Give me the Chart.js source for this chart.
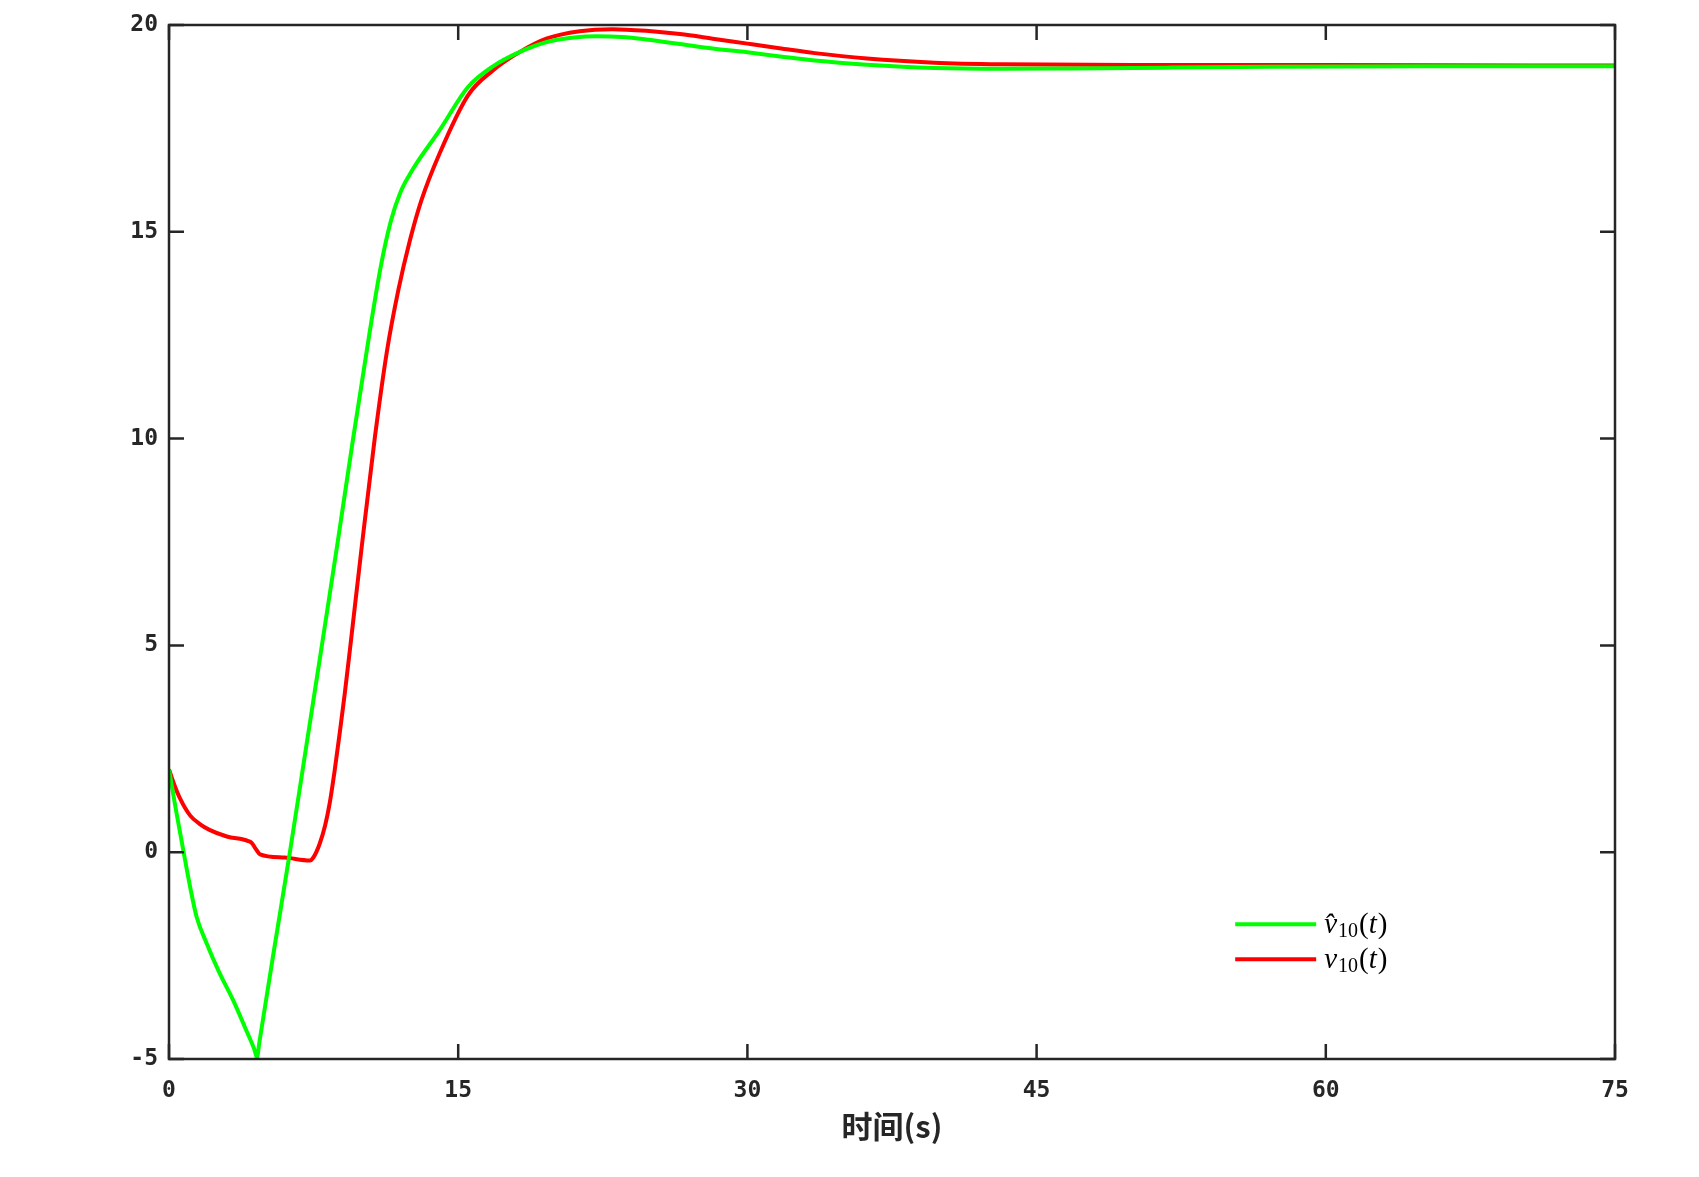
<!DOCTYPE html>
<html>
<head>
<meta charset="utf-8">
<script src="https://cdn.jsdelivr.net/npm/chart.js@4.4.1/dist/chart.umd.min.js"></script>
<style>
  html, body { margin: 0; padding: 0; background: #fff; }
  #wrap { width: 1699px; height: 1177px; }
</style>
</head>
<body>
<div id="wrap"><canvas id="speedChart"></canvas></div>
<script>
// 估计值 v̂10(t)
const tHat = [0, 0.35, 0.74, 1.1, 1.43, 1.95, 2.6, 3.35, 4.0, 4.45, 4.56, 4.68, 5.4, 6.27, 7.1, 7.93, 8.75, 9.55, 10.4,
  11.0, 11.5, 12.0, 12.5, 12.83, 14.04, 15.51, 16.8, 18.2, 19.6, 21.0, 22.2, 23.5, 24.75, 26.5, 28.2, 30,
  31.7, 33.5, 36.2, 39.7, 43.2, 46.7, 52, 57, 65, 75];
const vHat = [2, 1.05, 0.05, -0.85, -1.56, -2.2, -2.9, -3.6, -4.3, -4.8, -4.97, -4.62, -2.5, 0, 2.5, 5.0, 7.5, 10.0, 12.55,
  14.2, 15.25, 15.95, 16.4, 16.65, 17.46, 18.5, 19.0, 19.35, 19.59, 19.7, 19.73, 19.71, 19.65, 19.54, 19.43, 19.34,
  19.24, 19.14, 19.04, 18.96, 18.94, 18.95, 18.97, 18.99, 19.0, 19.0];

// 实际值 v10(t)
const tReal = [0, 0.3, 0.57, 1.09, 1.6, 2.1, 3.0, 4.11, 4.3, 4.5, 4.72, 6.0, 7.31, 7.5, 7.82, 8.1, 8.34, 8.6, 8.86, 9.12,
  9.38, 10.0, 10.67, 11.3, 11.9, 12.5, 13.09, 14.04, 15.51, 16.8, 18.2, 19.57, 21.3, 23.0, 24.75, 26.5, 28.2, 30, 31.66,
  33.5, 36.2, 39.7, 43.2, 50, 60, 75];
const vReal = [2, 1.6, 1.3, 0.89, 0.68, 0.54, 0.38, 0.27, 0.22, 0.08, -0.05, -0.13, -0.2, -0.12, 0.21, 0.65, 1.2, 2.0, 2.9, 3.85,
  4.88, 7.4, 10.0, 12.1, 13.6, 14.8, 15.76, 16.9, 18.3, 18.9, 19.35, 19.67, 19.85, 19.9, 19.86, 19.78, 19.67, 19.55, 19.44,
  19.32, 19.19, 19.09, 19.05, 19.03, 19.03, 19.02];

const xTicks = [0, 15, 30, 45, 60, 75];
const yTicks = [-5, 0, 5, 10, 15, 20];
const xTitle = '时间(s)';
const seriesNames = ['v̂10(t)', 'v10(t)'];

const toPoints = (ts, vs) => ts.map((t, i) => ({ x: t, y: vs[i] }));

// MATLAB 风格的外框和向内刻度
const axesBox = {
  id: 'axesBox',
  afterDraw(chart) {
    const { ctx, chartArea: a, scales: { x, y } } = chart;
    ctx.save();
    ctx.strokeStyle = '#262626';
    ctx.lineWidth = 2.5;
    ctx.beginPath();
    x.ticks.forEach(t => {
      const px = x.getPixelForValue(t.value);
      ctx.moveTo(px, a.bottom); ctx.lineTo(px, a.bottom - 15);
      ctx.moveTo(px, a.top); ctx.lineTo(px, a.top + 15);
    });
    y.ticks.forEach(t => {
      const py = y.getPixelForValue(t.value);
      ctx.moveTo(a.left, py); ctx.lineTo(a.left + 15, py);
      ctx.moveTo(a.right, py); ctx.lineTo(a.right - 15, py);
    });
    ctx.stroke();
    ctx.strokeRect(a.left, a.top, a.width, a.height);
    ctx.restore();
  }
};

// 图例（下标写法）
const legendBox = {
  id: 'legendBox',
  afterDatasetsDraw(chart) {
    const { ctx, scales: { x, y } } = chart;
    const x0 = x.getPixelForValue(55.3), x1 = x.getPixelForValue(59.5);
    const rowsY = [-1.74, -2.59];
    ctx.save();
    chart.data.datasets.forEach((ds, i) => {
      const py = y.getPixelForValue(rowsY[i]);
      ctx.strokeStyle = ds.borderColor;
      ctx.lineWidth = 4;
      ctx.beginPath();
      ctx.moveTo(x0, py); ctx.lineTo(x1, py);
      ctx.stroke();

      let tx = x1 + 8;
      const base = py + 9;
      ctx.fillStyle = '#000';
      ctx.textBaseline = 'alphabetic';
      ctx.textAlign = 'left';
      ctx.font = 'italic 29px "Liberation Serif"';
      ctx.fillText(i === 0 ? 'v\u0302' : 'v', tx, base);
      tx += ctx.measureText('v').width + 1;
      ctx.font = '20px "Liberation Serif"';
      ctx.fillText('10', tx, base + 4);
      tx += ctx.measureText('10').width + 1;
      ctx.font = '29px "Liberation Serif"';
      ctx.fillText('(', tx, base);
      tx += ctx.measureText('(').width;
      ctx.font = 'italic 29px "Liberation Serif"';
      ctx.fillText('t', tx, base);
      tx += ctx.measureText('t').width + 1;
      ctx.font = '29px "Liberation Serif"';
      ctx.fillText(')', tx, base);
    });
    ctx.restore();
  }
};

const tickFont = { family: '"DejaVu Sans Mono"', size: 23, weight: 'bold' };

new Chart(document.getElementById('speedChart').getContext('2d'), {
  type: 'line',
  data: {
    datasets: [{
      label: seriesNames[0],
      data: toPoints(tHat, vHat),
      borderColor: '#00ff00',
      borderWidth: 4,
      pointRadius: 0,
      cubicInterpolationMode: 'monotone'
    }, {
      label: seriesNames[1],
      data: toPoints(tReal, vReal),
      borderColor: '#ff0000',
      borderWidth: 4,
      pointRadius: 0,
      cubicInterpolationMode: 'monotone'
    }]
  },
  options: {
    responsive: true,
    maintainAspectRatio: false,
    animation: false,
    events: [],
    layout: { padding: { top: 25, right: 84, left: 0, bottom: 0 } },
    plugins: { legend: { display: false }, tooltip: { enabled: false } },
    scales: {
      x: {
        type: 'linear',
        min: 0,
        max: 75,
        afterBuildTicks: s => { s.ticks = xTicks.map(v => ({ value: v })); },
        afterFit: s => { s.height = 118; },
        grid: { display: false, drawTicks: false },
        border: { display: false },
        ticks: { font: tickFont, color: '#262626', padding: 18, maxRotation: 0 },
        title: {
          display: true,
          text: xTitle,
          color: '#262626',
          font: { family: '"Noto Sans CJK SC"', size: 31, weight: 'bold' },
          padding: { top: 0, bottom: 32 }
        }
      },
      y: {
        min: -5,
        max: 20,
        afterBuildTicks: s => { s.ticks = yTicks.map(v => ({ value: v })); },
        afterFit: s => { s.width = 169; },
        grid: { display: false, drawTicks: false },
        border: { display: false },
        ticks: { font: tickFont, color: '#262626', padding: 11 }
      }
    }
  },
  plugins: [legendBox, axesBox]
});
</script>
</body>
</html>
